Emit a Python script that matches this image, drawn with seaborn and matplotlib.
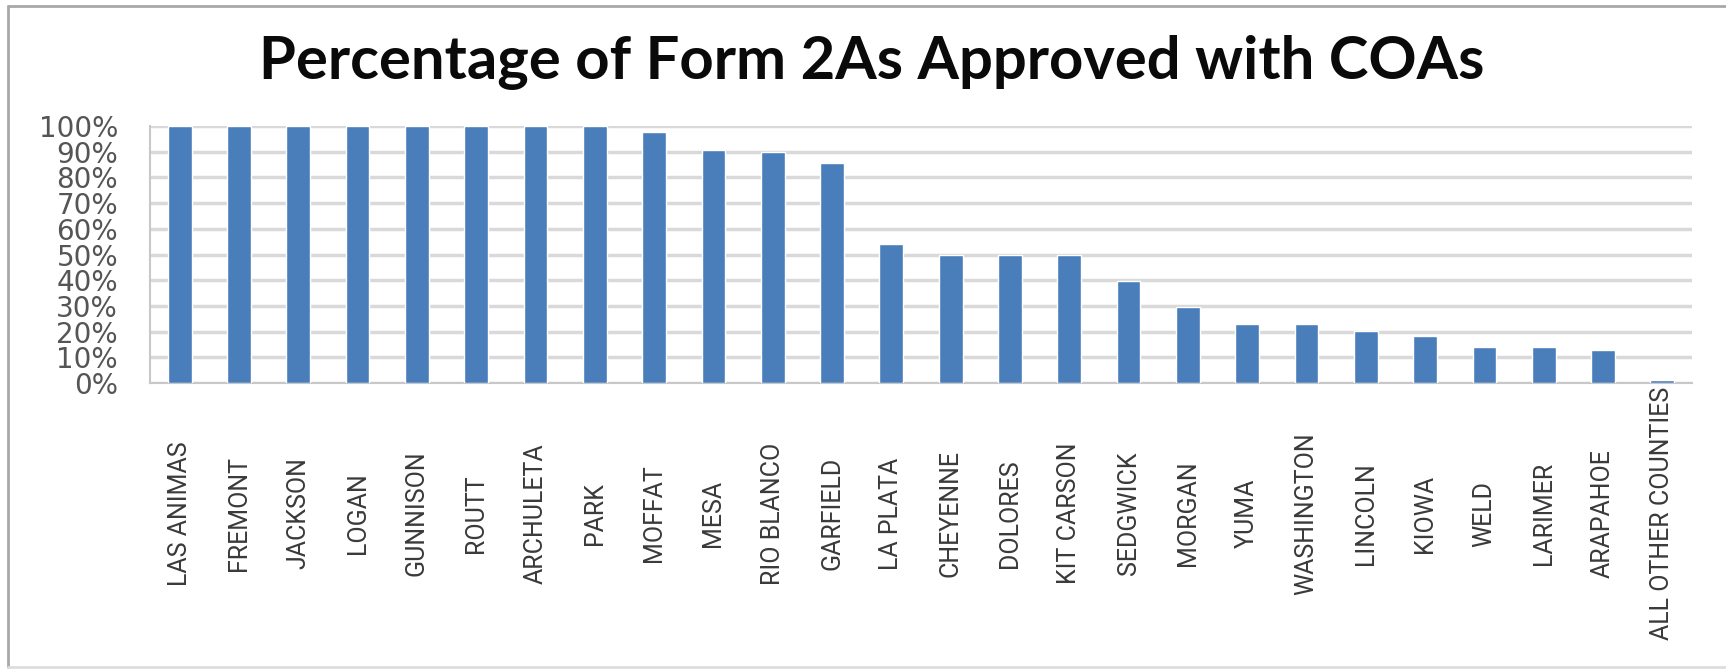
import matplotlib
matplotlib.use("Agg")
import matplotlib.pyplot as plt
import seaborn as sns
import pandas as pd
import numpy as np
from matplotlib.ticker import MultipleLocator, PercentFormatter, FixedLocator
from matplotlib.lines import Line2D

# Datos
condados = [
    "LAS ANIMAS", "FREMONT", "JACKSON", "LOGAN", "GUNNISON", "ROUTT",
    "ARCHULETA", "PARK", "MOFFAT", "MESA", "RIO BLANCO", "GARFIELD",
    "LA PLATA", "CHEYENNE", "DOLORES", "KIT CARSON", "SEDGWICK", "MORGAN",
    "YUMA", "WASHINGTON", "LINCOLN", "KIOWA", "WELD", "LARIMER",
    "ARAPAHOE", "ALL OTHER COUNTIES",
]
porcentajes = [
    100, 100, 100, 100, 100, 100,
    100, 100, 97.5, 90.6, 90.0, 85.5,
    54.0, 50.0, 50.0, 50.0, 39.7, 29.6,
    23.0, 23.0, 20.3, 18.3, 14.0, 14.0,
    13.0, 1.3,
]
titulo = "Percentage of Form 2As Approved with COAs"

df = pd.DataFrame({"condado": condados, "pct": porcentajes})

sns.set_style("white")
plt.rcParams["font.family"] = ["DejaVu Sans"]

fig = plt.figure(figsize=(17.26, 6.70), dpi=100)
ax = fig.add_axes([150 / 1726, 1 - 383 / 670, (1692 - 150) / 1726, (383 - 126) / 670])

sns.barplot(data=df, x="condado", y="pct", color="#4a7ebb", width=0.4,
            saturation=1, ax=ax, zorder=3)

ax.set_ylim(0, 100)
ax.set_xlim(-0.5, len(condados) - 0.5)
ax.yaxis.set_major_locator(MultipleLocator(10))
ax.yaxis.set_major_formatter(PercentFormatter(100, decimals=0))
ax.grid(axis="y", color="#d9d9d9", linewidth=2.5, zorder=0)
ax.set_axisbelow(True)

for s in ["top", "right"]:
    ax.spines[s].set_visible(False)
for s in ["left", "bottom"]:
    ax.spines[s].set_color("#c8c8c8")
    ax.spines[s].set_linewidth(1.5)

ax.set_xlabel("")
ax.set_ylabel("")

# Etiquetas del eje y
ax.tick_params(axis="y", which="major", length=8, width=2, color="#d9d9d9",
               labelsize=20, labelcolor="#555555", pad=15)

# Etiquetas del eje x giradas y centradas
ax.tick_params(axis="x", which="major", length=0, pad=94)
ax.set_xticks(range(len(condados)))
ax.set_xticklabels(condados, rotation=90, va="center", ha="center",
                   fontsize=18, color="#3a3a3a",
                   family=["Roboto", "DejaVu Sans"])
ax.xaxis.set_minor_locator(FixedLocator(np.arange(-0.5, len(condados), 1)))
ax.tick_params(axis="x", which="minor", length=7, width=1.5, color="#c8c8c8")

fig.suptitle(titulo, x=0.505, y=1 - 62 / 670, va="center", fontsize=43,
             fontweight="bold", color="#0a0a0a", family=["Lato", "DejaVu Sans"])

# Marco gris alrededor de la figura
borde = "#a8a8a8"
fig.add_artist(Line2D([8 / 1726, 1], [1 - 6 / 670, 1 - 6 / 670], color=borde, lw=2))
fig.add_artist(Line2D([8 / 1726, 8 / 1726], [1 - 6 / 670, 1 - 667 / 670], color=borde, lw=2))
fig.add_artist(Line2D([8 / 1726, 1], [1 - 667 / 670, 1 - 667 / 670], color="#dddddd", lw=2))

fig.savefig("out.png", dpi=100)
